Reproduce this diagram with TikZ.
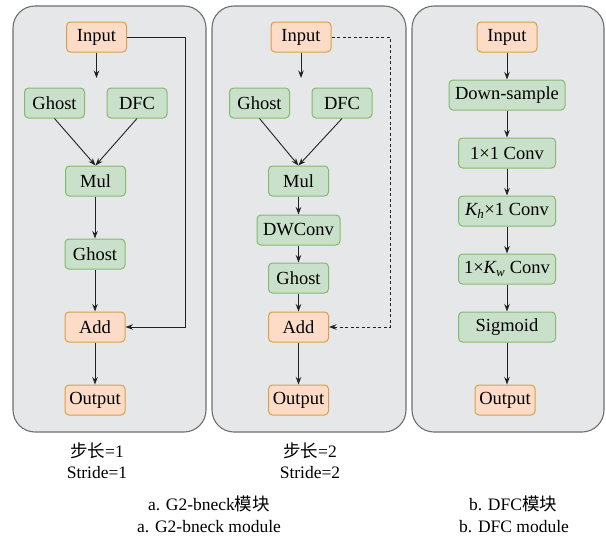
\documentclass[tikz,border=0pt]{standalone}
\usepackage{fontspec}
\setmainfont{Liberation Serif}
\newfontfamily\cjk{Noto Sans CJK SC}
\usetikzlibrary{arrows.meta}

\definecolor{panelfill}{HTML}{E6E7E9}
\definecolor{panelline}{HTML}{6E6E6E}
\definecolor{orfill}{HTML}{FCDCC6}
\definecolor{orline}{HTML}{D9A04A}
\definecolor{grfill}{HTML}{C9E1CB}
\definecolor{grline}{HTML}{86B86E}
\definecolor{arr}{HTML}{222222}

\tikzset{
  panel/.style={draw=panelline, fill=panelfill, line width=1.1pt, rounded corners=22pt},
  iobox/.style={draw=orline, fill=orfill, line width=1pt, rounded corners=4pt,
    minimum height=30pt, minimum width=60pt, inner sep=0pt, font=\fontsize{18.5}{20}\selectfont},
  opbox/.style={draw=grline, fill=grfill, line width=1pt, rounded corners=4pt,
    minimum height=30pt, minimum width=60pt, inner sep=0pt, font=\fontsize{18.5}{20}\selectfont},
  captext/.style={font=\fontsize{17.5}{20}\selectfont, inner sep=0pt},
  link/.style={draw=arr, line width=0.9pt, -{Stealth[length=7.5pt,width=5.5pt]}},
}

\begin{document}
\begin{tikzpicture}[x=1pt,y=-1pt]
  \useasboundingbox (0,0) rectangle (606,536);

  % panels
  \draw[panel] (13,6)  rectangle (206,432);
  \draw[panel] (212,6) rectangle (406,432);
  \draw[panel] (412,6) rectangle (604,432);

  % stride 1
  \node[iobox] (inA)    at (96.5,37)  {Input};
  \coordinate  (forkA)  at (96.5,78);
  \node[opbox] (ghostA) at (54.5,103) {Ghost};
  \node[opbox] (dfcA)   at (137,103)  {DFC};
  \node[opbox] (mulA)   at (95.5,181) {Mul};
  \node[opbox] (ghostB) at (95,254)   {Ghost};
  \node[iobox] (addA)   at (95,327)   {Add};
  \node[iobox] (outA)   at (95,400)   {Output};
  \coordinate  (skipA)  at (185,37);

  \draw[link] (inA)    -- (forkA);
  \draw[link] (ghostA.south) -- (mulA.north);
  \draw[link] (dfcA.south)   -- (mulA.north);
  \draw[link] (mulA.south -| ghostB) -- (ghostB);
  \draw[link] (ghostB) -- (addA);
  \draw[link] (addA)   -- (outA);
  \draw[link] (inA.east) -- (skipA) |- (addA.east);

  % stride 2
  \node[iobox] (inB)    at (301,37)    {Input};
  \coordinate  (forkB)  at (301,78);
  \node[opbox] (ghostC) at (259.5,103) {Ghost};
  \node[opbox] (dfcB)   at (342,103)   {DFC};
  \node[opbox] (mulB)   at (298.5,181) {Mul};
  \node[opbox, minimum width=83pt] (dwB) at (298.5,230) {DWConv};
  \node[opbox] (ghostD) at (298.5,278) {Ghost};
  \node[iobox] (addB)   at (298.5,327) {Add};
  \node[iobox] (outB)   at (298.5,400) {Output};
  \coordinate  (skipB)  at (390,37);

  \draw[link] (inB)    -- (forkB);
  \draw[link] (ghostC.south) -- (mulB.north);
  \draw[link] (dfcB.south)   -- (mulB.north);
  \draw[link] (mulB)   -- (dwB);
  \draw[link] (dwB)    -- (ghostD);
  \draw[link] (ghostD) -- (addB);
  \draw[link] (addB)   -- (outB);
  \draw[link, dash pattern=on 3pt off 2.5pt] (inB.east) -- (skipB) |- (addB.east);

  % DFC
  \node[iobox] (inC)   at (507,37)  {Input};
  \node[opbox, minimum width=116pt] (down) at (507,95) {Down-sample};
  \node[opbox, minimum width=97pt] (convA) at (507,153) {1×1 Conv};
  \node[opbox, minimum width=97pt] (convB) at (507,211) {{\itshape K}\textsubscript{\itshape h}×1 Conv};
  \node[opbox, minimum width=97pt] (convC) at (507,269) {1×{\itshape K}\textsubscript{\itshape w} Conv};
  \node[opbox, minimum width=97pt] (sig)   at (507,327) {Sigmoid};
  \node[iobox] (outC)  at (505,400) {Output};

  \draw[link] (inC)   -- (down);
  \draw[link] (down)  -- (convA);
  \draw[link] (convA) -- (convB);
  \draw[link] (convB) -- (convC);
  \draw[link] (convC) -- (sig);
  \draw[link] (sig.south) -- (outC.north -| sig.south);

  % captions
  \node[captext] (stepA) at (97,451)  {{\cjk 步长}=1};
  \node[captext] (strA)  at (97,473)  {Stride=1};
  \node[captext] (stepB) at (310,451) {{\cjk 步长}=2};
  \node[captext] (strB)  at (310,473) {Stride=2};
  \node[captext] (capA)  at (209,504) {a. G2-bneck{\cjk 模块}};
  \node[captext] (capAe) at (209,527) {a. G2-bneck module};
  \node[captext] (capB)  at (513,504) {b. DFC{\cjk 模块}};
  \node[captext] (capBe) at (514,527) {b. DFC module};
\end{tikzpicture}
\end{document}
